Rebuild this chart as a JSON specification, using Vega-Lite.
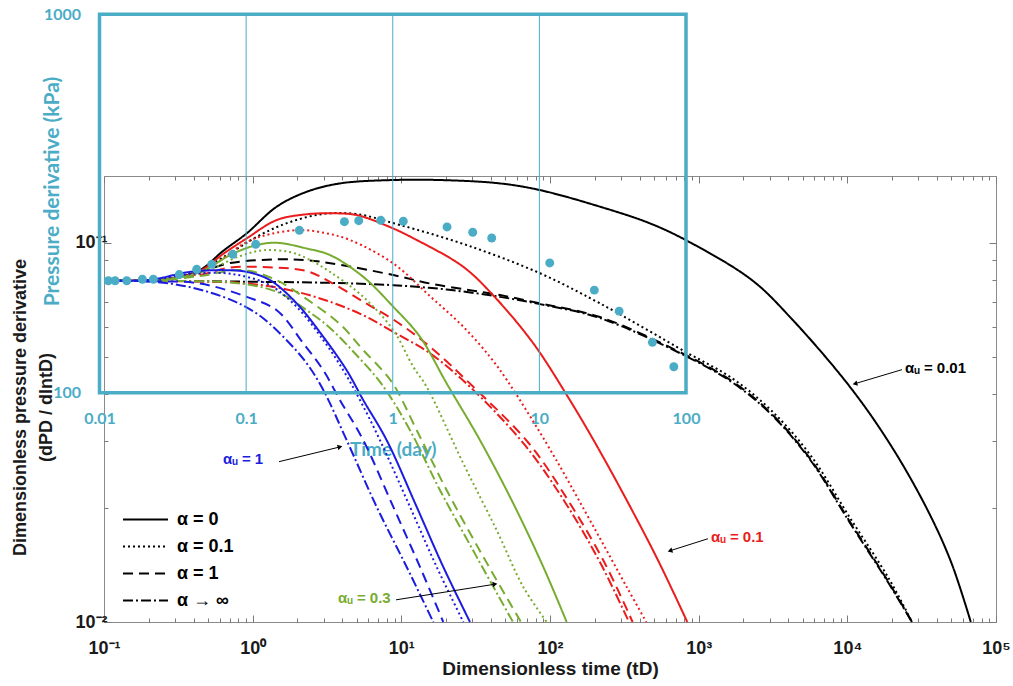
{
  "$schema": "https://vega.github.io/schema/vega-lite/v6.json",
  "width": 892,
  "height": 446,
  "autosize": {"type": "none"},
  "padding": {"left": 104, "top": 176, "right": 17, "bottom": 64},
  "background": "white",
  "config": {"view": {"stroke": "#8a8a8a", "strokeWidth": 1}, "font": "Liberation Sans"},
  "datasets": {
    "curves": [
      {"s":"0.01","d":"α = 0","t":0.1,"v":0.0795},{"s":"0.01","d":"α = 0","t":0.2039,"v":0.0796},{"s":"0.01","d":"α = 0","t":0.3003,"v":0.0809},{"s":"0.01","d":"α = 0","t":0.4421,"v":0.0847},{"s":"0.01","d":"α = 0","t":0.6316,"v":0.0951},{"s":"0.01","d":"α = 0","t":0.9116,"v":0.1059},{"s":"0.01","d":"α = 0","t":1.451,"v":0.1245},{"s":"0.01","d":"α = 0","t":2.309,"v":0.1363},{"s":"0.01","d":"α = 0","t":3.867,"v":0.1434},{"s":"0.01","d":"α = 0","t":8.388,"v":0.1463},{"s":"0.01","d":"α = 0","t":19.06,"v":0.1463},{"s":"0.01","d":"α = 0","t":46.09,"v":0.1434},{"s":"0.01","d":"α = 0","t":85.63,"v":0.1377},{"s":"0.01","d":"α = 0","t":216.9,"v":0.1245},{"s":"0.01","d":"α = 0","t":470.7,"v":0.1125},{"s":"0.01","d":"α = 0","t":860.7,"v":0.1006},{"s":"0.01","d":"α = 0","t":2284,"v":0.0797},{"s":"0.01","d":"α = 0","t":4178,"v":0.0633},{"s":"0.01","d":"α = 0","t":10580,"v":0.04136},{"s":"0.01","d":"α = 0","t":20160,"v":0.02873},{"s":"0.01","d":"α = 0","t":34720,"v":0.0197},{"s":"0.01","d":"α = 0","t":49950,"v":0.01437},{"s":"0.01","d":"α = 0","t":67680,"v":0.01},
      {"s":"0.01","d":"α = 0.1","t":0.1,"v":0.0795},{"s":"0.01","d":"α = 0.1","t":0.2039,"v":0.0796},{"s":"0.01","d":"α = 0.1","t":0.3003,"v":0.0809},{"s":"0.01","d":"α = 0.1","t":0.4421,"v":0.0847},{"s":"0.01","d":"α = 0.1","t":0.7039,"v":0.0939},{"s":"0.01","d":"α = 0.1","t":1.12,"v":0.1048},{"s":"0.01","d":"α = 0.1","t":1.783,"v":0.1134},{"s":"0.01","d":"α = 0.1","t":2.972,"v":0.1191},{"s":"0.01","d":"α = 0.1","t":4.955,"v":0.1191},{"s":"0.01","d":"α = 0.1","t":9.795,"v":0.1114},{"s":"0.01","d":"α = 0.1","t":27.52,"v":0.0986},{"s":"0.01","d":"α = 0.1","t":85.63,"v":0.0831},{"s":"0.01","d":"α = 0.1","t":216.9,"v":0.0692},{"s":"0.01","d":"α = 0.1","t":821.6,"v":0.05148},{"s":"0.01","d":"α = 0.1","t":1675,"v":0.04395},{"s":"0.01","d":"α = 0.1","t":3064,"v":0.03619},{"s":"0.01","d":"α = 0.1","t":5651,"v":0.02753},{"s":"0.01","d":"α = 0.1","t":10350,"v":0.0189},{"s":"0.01","d":"α = 0.1","t":18970,"v":0.01304},{"s":"0.01","d":"α = 0.1","t":27210,"v":0.01},
      {"s":"0.01","d":"α = 1","t":0.1,"v":0.0795},{"s":"0.01","d":"α = 1","t":0.2039,"v":0.0796},{"s":"0.01","d":"α = 1","t":0.3003,"v":0.0809},{"s":"0.01","d":"α = 1","t":0.4421,"v":0.0837},{"s":"0.01","d":"α = 1","t":0.7039,"v":0.0884},{"s":"0.01","d":"α = 1","t":1.451,"v":0.0904},{"s":"0.01","d":"α = 1","t":2.309,"v":0.09},{"s":"0.01","d":"α = 1","t":3.867,"v":0.0875},{"s":"0.01","d":"α = 1","t":8.83,"v":0.0822},{"s":"0.01","d":"α = 1","t":15.59,"v":0.0781},{"s":"0.01","d":"α = 1","t":28.96,"v":0.075},{"s":"0.01","d":"α = 1","t":46.09,"v":0.0728},{"s":"0.01","d":"α = 1","t":85.63,"v":0.0692},{"s":"0.01","d":"α = 1","t":216.9,"v":0.0637},{"s":"0.01","d":"α = 1","t":821.6,"v":0.05054},{"s":"0.01","d":"α = 1","t":1675,"v":0.04316},{"s":"0.01","d":"α = 1","t":3064,"v":0.03554},{"s":"0.01","d":"α = 1","t":5651,"v":0.02687},{"s":"0.01","d":"α = 1","t":10350,"v":0.01844},{"s":"0.01","d":"α = 1","t":18970,"v":0.01273},{"s":"0.01","d":"α = 1","t":27210,"v":0.01},
      {"s":"0.01","d":"α → ∞","t":0.1,"v":0.0795},{"s":"0.01","d":"α → ∞","t":0.4421,"v":0.0792},{"s":"0.01","d":"α → ∞","t":1.064,"v":0.0789},{"s":"0.01","d":"α → ∞","t":3.313,"v":0.0784},{"s":"0.01","d":"α → ∞","t":8.83,"v":0.0773},{"s":"0.01","d":"α → ∞","t":20.19,"v":0.0753},{"s":"0.01","d":"α → ∞","t":46.09,"v":0.072},{"s":"0.01","d":"α → ∞","t":85.63,"v":0.0689},{"s":"0.01","d":"α → ∞","t":216.9,"v":0.0633},{"s":"0.01","d":"α → ∞","t":821.6,"v":0.05024},{"s":"0.01","d":"α → ∞","t":1675,"v":0.0429},{"s":"0.01","d":"α → ∞","t":3064,"v":0.03532},{"s":"0.01","d":"α → ∞","t":5651,"v":0.0267},{"s":"0.01","d":"α → ∞","t":10350,"v":0.01833},{"s":"0.01","d":"α → ∞","t":18970,"v":0.01265},{"s":"0.01","d":"α → ∞","t":27210,"v":0.01},
      {"s":"0.1","d":"α = 0","t":0.1,"v":0.0795},{"s":"0.1","d":"α = 0","t":0.2039,"v":0.0796},{"s":"0.1","d":"α = 0","t":0.3003,"v":0.0809},{"s":"0.1","d":"α = 0","t":0.4421,"v":0.0842},{"s":"0.1","d":"α = 0","t":0.6316,"v":0.0934},{"s":"0.1","d":"α = 0","t":0.9116,"v":0.1027},{"s":"0.1","d":"α = 0","t":1.451,"v":0.1148},{"s":"0.1","d":"α = 0","t":2.309,"v":0.1189},{"s":"0.1","d":"α = 0","t":3.485,"v":0.1196},{"s":"0.1","d":"α = 0","t":5.009,"v":0.1183},{"s":"0.1","d":"α = 0","t":8.388,"v":0.11},{"s":"0.1","d":"α = 0","t":12.69,"v":0.1017},{"s":"0.1","d":"α = 0","t":26.12,"v":0.0864},{"s":"0.1","d":"α = 0","t":42.0,"v":0.0723},{"s":"0.1","d":"α = 0","t":77.2,"v":0.0543},{"s":"0.1","d":"α = 0","t":132.1,"v":0.0392},{"s":"0.1","d":"α = 0","t":202.3,"v":0.02956},{"s":"0.1","d":"α = 0","t":328.0,"v":0.02095},{"s":"0.1","d":"α = 0","t":532.6,"v":0.01455},{"s":"0.1","d":"α = 0","t":838.3,"v":0.01},
      {"s":"0.1","d":"α = 0.1","t":0.1,"v":0.0795},{"s":"0.1","d":"α = 0.1","t":0.2039,"v":0.0796},{"s":"0.1","d":"α = 0.1","t":0.3003,"v":0.0807},{"s":"0.1","d":"α = 0.1","t":0.4421,"v":0.0832},{"s":"0.1","d":"α = 0.1","t":0.9116,"v":0.1004},{"s":"0.1","d":"α = 0.1","t":1.308,"v":0.1054},{"s":"0.1","d":"α = 0.1","t":2.081,"v":0.108},{"s":"0.1","d":"α = 0.1","t":3.065,"v":0.1061},{"s":"0.1","d":"α = 0.1","t":4.515,"v":0.1017},{"s":"0.1","d":"α = 0.1","t":8.83,"v":0.0882},{"s":"0.1","d":"α = 0.1","t":15.59,"v":0.0723},{"s":"0.1","d":"α = 0.1","t":26.12,"v":0.06005},{"s":"0.1","d":"α = 0.1","t":39.48,"v":0.05003},{"s":"0.1","d":"α = 0.1","t":51.37,"v":0.04342},{"s":"0.1","d":"α = 0.1","t":73.35,"v":0.03489},{"s":"0.1","d":"α = 0.1","t":110.4,"v":0.0267},{"s":"0.1","d":"α = 0.1","t":202.3,"v":0.01746},{"s":"0.1","d":"α = 0.1","t":328.0,"v":0.01237},{"s":"0.1","d":"α = 0.1","t":444.3,"v":0.01},
      {"s":"0.1","d":"α = 1","t":0.1,"v":0.0795},{"s":"0.1","d":"α = 1","t":0.2039,"v":0.0796},{"s":"0.1","d":"α = 1","t":0.4421,"v":0.0822},{"s":"0.1","d":"α = 1","t":0.7039,"v":0.086},{"s":"0.1","d":"α = 1","t":1.377,"v":0.0861},{"s":"0.1","d":"α = 1","t":2.309,"v":0.0842},{"s":"0.1","d":"α = 1","t":3.313,"v":0.0789},{"s":"0.1","d":"α = 1","t":5.548,"v":0.0699},{"s":"0.1","d":"α = 1","t":9.307,"v":0.0619},{"s":"0.1","d":"α = 1","t":15.59,"v":0.0532},{"s":"0.1","d":"α = 1","t":30.49,"v":0.0417},{"s":"0.1","d":"α = 1","t":72.23,"v":0.02956},{"s":"0.1","d":"α = 1","t":132.1,"v":0.02095},{"s":"0.1","d":"α = 1","t":228.2,"v":0.01455},{"s":"0.1","d":"α = 1","t":359.4,"v":0.01},
      {"s":"0.1","d":"α → ∞","t":0.1,"v":0.0795},{"s":"0.1","d":"α → ∞","t":0.4421,"v":0.079},{"s":"0.1","d":"α → ∞","t":0.9116,"v":0.0781},{"s":"0.1","d":"α → ∞","t":1.783,"v":0.075},{"s":"0.1","d":"α → ∞","t":3.313,"v":0.0699},{"s":"0.1","d":"α → ∞","t":5.548,"v":0.0644},{"s":"0.1","d":"α → ∞","t":8.83,"v":0.0582},{"s":"0.1","d":"α → ∞","t":15.59,"v":0.0511},{"s":"0.1","d":"α → ∞","t":28.96,"v":0.0417},{"s":"0.1","d":"α → ∞","t":67.89,"v":0.02925},{"s":"0.1","d":"α → ∞","t":126.2,"v":0.0207},{"s":"0.1","d":"α → ∞","t":216.9,"v":0.01437},{"s":"0.1","d":"α → ∞","t":339.9,"v":0.01},
      {"s":"0.3","d":"α = 0","t":0.1,"v":0.0795},{"s":"0.3","d":"α = 0","t":0.2039,"v":0.0796},{"s":"0.3","d":"α = 0","t":0.3003,"v":0.0807},{"s":"0.3","d":"α = 0","t":0.4421,"v":0.0837},{"s":"0.3","d":"α = 0","t":0.7409,"v":0.0937},{"s":"0.3","d":"α = 0","t":1.064,"v":0.0986},{"s":"0.3","d":"α = 0","t":1.451,"v":0.1},{"s":"0.3","d":"α = 0","t":2.309,"v":0.0966},{"s":"0.3","d":"α = 0","t":3.313,"v":0.0928},{"s":"0.3","d":"α = 0","t":5.548,"v":0.0813},{"s":"0.3","d":"α = 0","t":8.83,"v":0.0678},{"s":"0.3","d":"α = 0","t":13.35,"v":0.0565},{"s":"0.3","d":"α = 0","t":20.19,"v":0.04256},{"s":"0.3","d":"α = 0","t":33.82,"v":0.03015},{"s":"0.3","d":"α = 0","t":56.64,"v":0.02053},{"s":"0.3","d":"α = 0","t":90.13,"v":0.01397},{"s":"0.3","d":"α = 0","t":129.5,"v":0.01},
      {"s":"0.3","d":"α = 0.1","t":0.1,"v":0.0795},{"s":"0.3","d":"α = 0.1","t":0.2039,"v":0.0796},{"s":"0.3","d":"α = 0.1","t":0.4421,"v":0.0832},{"s":"0.3","d":"α = 0.1","t":0.8217,"v":0.0922},{"s":"0.3","d":"α = 0.1","t":1.179,"v":0.0956},{"s":"0.3","d":"α = 0.1","t":1.783,"v":0.0945},{"s":"0.3","d":"α = 0.1","t":2.309,"v":0.091},{"s":"0.3","d":"α = 0.1","t":3.313,"v":0.0838},{"s":"0.3","d":"α = 0.1","t":5.548,"v":0.072},{"s":"0.3","d":"α = 0.1","t":8.83,"v":0.0588},{"s":"0.3","d":"α = 0.1","t":12.03,"v":0.0471},{"s":"0.3","d":"α = 0.1","t":14.81,"v":0.0417},{"s":"0.3","d":"α = 0.1","t":26.12,"v":0.02618},{"s":"0.3","d":"α = 0.1","t":43.79,"v":0.01746},{"s":"0.3","d":"α = 0.1","t":66.12,"v":0.01237},{"s":"0.3","d":"α = 0.1","t":94.99,"v":0.01},
      {"s":"0.3","d":"α = 1","t":0.1,"v":0.0795},{"s":"0.3","d":"α = 1","t":0.2379,"v":0.0797},{"s":"0.3","d":"α = 1","t":0.4421,"v":0.0817},{"s":"0.3","d":"α = 1","t":0.865,"v":0.0847},{"s":"0.3","d":"α = 1","t":1.451,"v":0.0797},{"s":"0.3","d":"α = 1","t":2.309,"v":0.071},{"s":"0.3","d":"α = 1","t":3.867,"v":0.061},{"s":"0.3","d":"α = 1","t":5.548,"v":0.0521},{"s":"0.3","d":"α = 1","t":8.614,"v":0.04297},{"s":"0.3","d":"α = 1","t":12.69,"v":0.03204},{"s":"0.3","d":"α = 1","t":20.19,"v":0.02226},{"s":"0.3","d":"α = 1","t":35.6,"v":0.01485},{"s":"0.3","d":"α = 1","t":63.8,"v":0.01},
      {"s":"0.3","d":"α → ∞","t":0.1,"v":0.0795},{"s":"0.3","d":"α → ∞","t":0.379,"v":0.0792},{"s":"0.3","d":"α → ∞","t":0.7409,"v":0.0785},{"s":"0.3","d":"α → ∞","t":1.451,"v":0.0743},{"s":"0.3","d":"α → ∞","t":2.309,"v":0.0664},{"s":"0.3","d":"α → ∞","t":3.313,"v":0.0596},{"s":"0.3","d":"α → ∞","t":5.009,"v":0.0505},{"s":"0.3","d":"α → ∞","t":7.377,"v":0.04238},{"s":"0.3","d":"α → ∞","t":11.44,"v":0.03204},{"s":"0.3","d":"α → ∞","t":18.2,"v":0.02226},{"s":"0.3","d":"α → ∞","t":32.13,"v":0.01485},{"s":"0.3","d":"α → ∞","t":56.38,"v":0.01},
      {"s":"1","d":"α = 0","t":0.1,"v":0.0795},{"s":"1","d":"α = 0","t":0.2039,"v":0.0799},{"s":"1","d":"α = 0","t":0.379,"v":0.0838},{"s":"1","d":"α = 0","t":0.6346,"v":0.0847},{"s":"1","d":"α = 0","t":0.9116,"v":0.0838},{"s":"1","d":"α = 0","t":1.308,"v":0.0797},{"s":"1","d":"α = 0","t":1.978,"v":0.0692},{"s":"1","d":"α = 0","t":2.986,"v":0.0565},{"s":"1","d":"α = 0","t":4.29,"v":0.0461},{"s":"1","d":"α = 0","t":5.548,"v":0.03846},{"s":"1","d":"α = 0","t":7.971,"v":0.03015},{"s":"1","d":"α = 0","t":12.69,"v":0.02011},{"s":"1","d":"α = 0","t":19.15,"v":0.01397},{"s":"1","d":"α = 0","t":28.96,"v":0.01},
      {"s":"1","d":"α = 0.1","t":0.1,"v":0.0795},{"s":"1","d":"α = 0.1","t":0.2039,"v":0.0797},{"s":"1","d":"α = 0.1","t":0.379,"v":0.0827},{"s":"1","d":"α = 0.1","t":0.6346,"v":0.0832},{"s":"1","d":"α = 0.1","t":0.9116,"v":0.0813},{"s":"1","d":"α = 0.1","t":1.308,"v":0.0773},{"s":"1","d":"α = 0.1","t":1.978,"v":0.0678},{"s":"1","d":"α = 0.1","t":2.986,"v":0.0554},{"s":"1","d":"α = 0.1","t":4.07,"v":0.0461},{"s":"1","d":"α = 0.1","t":5.272,"v":0.03846},{"s":"1","d":"α = 0.1","t":7.186,"v":0.03015},{"s":"1","d":"α = 0.1","t":11.44,"v":0.02011},{"s":"1","d":"α = 0.1","t":17.29,"v":0.01397},{"s":"1","d":"α = 0.1","t":26.12,"v":0.01},
      {"s":"1","d":"α = 1","t":0.1,"v":0.0795},{"s":"1","d":"α = 1","t":0.2039,"v":0.0792},{"s":"1","d":"α = 1","t":0.4421,"v":0.0781},{"s":"1","d":"α = 1","t":0.9116,"v":0.072},{"s":"1","d":"α = 1","t":1.451,"v":0.0664},{"s":"1","d":"α = 1","t":2.191,"v":0.0543},{"s":"1","d":"α = 1","t":2.986,"v":0.0461},{"s":"1","d":"α = 1","t":3.867,"v":0.03846},{"s":"1","d":"α = 1","t":5.548,"v":0.03015},{"s":"1","d":"α = 1","t":8.83,"v":0.02011},{"s":"1","d":"α = 1","t":13.35,"v":0.01397},{"s":"1","d":"α = 1","t":19.15,"v":0.01},
      {"s":"1","d":"α → ∞","t":0.1,"v":0.0795},{"s":"1","d":"α → ∞","t":0.278,"v":0.0781},{"s":"1","d":"α → ∞","t":0.6346,"v":0.072},{"s":"1","d":"α → ∞","t":1.064,"v":0.0651},{"s":"1","d":"α → ∞","t":1.607,"v":0.0565},{"s":"1","d":"α → ∞","t":2.309,"v":0.0481},{"s":"1","d":"α → ∞","t":2.986,"v":0.0409},{"s":"1","d":"α → ∞","t":4.29,"v":0.03015},{"s":"1","d":"α → ∞","t":6.828,"v":0.02011},{"s":"1","d":"α → ∞","t":10.86,"v":0.01397},{"s":"1","d":"α → ∞","t":16.41,"v":0.01}
    ],
    "notes": [
      {"s":"1","t":0.6316,"v":0.02687,"label":"αᵤ = 1"},
      {"s":"0.3","t":3.749,"v":0.01157,"label":"αᵤ = 0.3"},
      {"s":"0.1","t":1210,"v":0.01673,"label":"αᵤ = 0.1"},
      {"s":"0.01","t":24430,"v":0.04671,"label":"αᵤ = 0.01"}
    ],
    "arrows": [
      {"s":"1","t":1.503,"v":0.02647,"t2":3.867,"v2":0.02895},
      {"s":"0.3","t":9.21,"v":0.01144,"t2":42.66,"v2":0.01258},
      {"s":"0.1","t":1155,"v":0.01658,"t2":641.4,"v2":0.01541},
      {"s":"0.01","t":23310,"v":0.04628,"t2":11260,"v2":0.04251}
    ],
    "dots": [
      {"day":0.01148,"kpa":197.6},{"day":0.01277,"kpa":197.6},{"day":0.01534,"kpa":197.6},{"day":0.0196,"kpa":199.4},{"day":0.0233,"kpa":199.4},{"day":0.035,"kpa":205.2},{"day":0.046,"kpa":211.9},{"day":0.0583,"kpa":218.4},{"day":0.0811,"kpa":232.1},{"day":0.1163,"kpa":246.7},{"day":0.2307,"kpa":268.6},{"day":0.468,"kpa":283.1},{"day":0.586,"kpa":284.8},{"day":0.828,"kpa":285.5},{"day":1.18,"kpa":283.8},{"day":2.345,"kpa":274.2},{"day":3.51,"kpa":265.5},{"day":4.73,"kpa":256.4},{"day":11.77,"kpa":220.3},{"day":23.7,"kpa":186.7},{"day":35.0,"kpa":164.3},{"day":59.0,"kpa":135.9},{"day":82.6,"kpa":117.1}
    ]
  },
  "layer": [
    {
      "data": {"name": "curves"},
      "mark": {"type": "line", "strokeWidth": 2, "interpolate": "catmull-rom"},
      "encoding": {
        "x": {"field": "t", "type": "quantitative",
          "scale": {"type": "log", "domain": [0.1, 100000], "nice": false},
          "axis": {"orient": "bottom",
            "values": [0.1,0.2,0.3,0.4,0.5,0.6,0.7,0.8,0.9,1,2,3,4,5,6,7,8,9,10,20,30,40,50,60,70,80,90,100,200,300,400,500,600,700,800,900,1000,2000,3000,4000,5000,6000,7000,8000,9000,10000,20000,30000,40000,50000,60000,70000,80000,90000,100000],
            "labelExpr": "datum.value == 0.1 ? '10⁻¹' : datum.value == 1 ? '10⁰' : datum.value == 10 ? '10¹' : datum.value == 100 ? '10²' : datum.value == 1000 ? '10³' : datum.value == 10000 ? '10⁴' : datum.value == 100000 ? '10⁵' : ''",
            "tickSize": {"condition": {"test": "abs(log(datum.value)/LN10 - round(log(datum.value)/LN10)) < 0.001", "value": -7}, "value": -4},
            "tickColor": "#7a7a7a", "domain": false, "grid": false,
            "labelFont": "Liberation Sans", "labelFontSize": 18, "labelFontWeight": "bold", "labelColor": "#1a1a1a",
            "labelPadding": 24, "labelOverlap": false, "labelFlush": false, "labelBound": false,
            "title": "Dimensionless time (tD)", "titleFont": "Liberation Sans", "titleFontSize": 19, "titleFontWeight": "bold", "titleColor": "#1a1a1a",
            "titleY": 46, "titleBaseline": "middle"}},
        "y": {"field": "v", "type": "quantitative",
          "scale": {"type": "log", "domain": [0.01, 0.15], "nice": false},
          "axis": {"orient": "left",
            "values": [0.01,0.02,0.03,0.04,0.05,0.06,0.07,0.08,0.09,0.1],
            "labelExpr": "datum.value == 0.01 ? '10⁻²' : datum.value == 0.1 ? '10⁻¹' : ''",
            "tickSize": {"condition": {"test": "datum.value == 0.01 || datum.value == 0.1", "value": -7}, "value": -4},
            "tickColor": "#7a7a7a", "domain": false, "grid": false,
            "labelFont": "Liberation Sans", "labelFontSize": 18, "labelFontWeight": "bold", "labelColor": "#1a1a1a",
            "labelPadding": 4, "labelOverlap": false, "labelFlush": false, "labelBound": false,
            "title": ["Dimensionless pressure derivative", "(dPD / dlntD)"],
            "titleFont": "Liberation Sans", "titleFontSize": 18, "titleFontWeight": "bold", "titleColor": "#1a1a1a",
            "titleLineHeight": 26, "titleX": -84, "titleY": 231, "titleAngle": -90, "titleBaseline": "middle", "titleAlign": "center"}},
        "color": {"field": "s", "type": "nominal",
          "scale": {"domain": ["0.01", "0.1", "0.3", "1"], "range": ["#000000", "#ea1c1c", "#77ac30", "#1c1ce0"]},
          "legend": null},
        "strokeDash": {"field": "d", "type": "nominal",
          "scale": {"domain": ["α = 0", "α = 0.1", "α = 1", "α → ∞"], "range": [[1, 0], [2, 3], [10, 6], [10, 3, 2, 3]]},
          "legend": {"title": null, "orient": "none", "legendX": 18, "legendY": 330,
            "symbolType": "stroke", "symbolSize": 2025, "symbolStrokeWidth": 2, "symbolStrokeColor": "black",
            "labelFont": "Liberation Sans", "labelFontSize": 18, "labelFontWeight": "bold", "labelColor": "black",
            "labelOffset": 8, "rowPadding": 0, "clipHeight": 27, "padding": 0}}
      }
    },
    {
      "data": {"name": "arrows"},
      "mark": {"type": "rule", "color": "black", "strokeWidth": 1},
      "encoding": {
        "x": {"field": "t", "type": "quantitative", "scale": {"type": "log", "domain": [0.1, 100000], "nice": false}, "axis": null},
        "y": {"field": "v", "type": "quantitative", "scale": {"type": "log", "domain": [0.01, 0.15], "nice": false}, "axis": null},
        "x2": {"field": "t2"},
        "y2": {"field": "v2"}
      }
    },
    {
      "data": {"name": "arrows"},
      "transform": [{"filter": "datum.s == '1'"}],
      "mark": {"type": "point", "shape": "triangle-right", "filled": true, "color": "black", "size": 30, "angle": -14, "opacity": 1},
      "encoding": {
        "x": {"field": "t2", "type": "quantitative", "scale": {"type": "log", "domain": [0.1, 100000], "nice": false}, "axis": null},
        "y": {"field": "v2", "type": "quantitative", "scale": {"type": "log", "domain": [0.01, 0.15], "nice": false}, "axis": null}}
    },
    {
      "data": {"name": "arrows"},
      "transform": [{"filter": "datum.s == '0.3'"}],
      "mark": {"type": "point", "shape": "triangle-right", "filled": true, "color": "black", "size": 30, "angle": -9, "opacity": 1},
      "encoding": {
        "x": {"field": "t2", "type": "quantitative", "scale": {"type": "log", "domain": [0.1, 100000], "nice": false}, "axis": null},
        "y": {"field": "v2", "type": "quantitative", "scale": {"type": "log", "domain": [0.01, 0.15], "nice": false}, "axis": null}}
    },
    {
      "data": {"name": "arrows"},
      "transform": [{"filter": "datum.s == '0.1'"}],
      "mark": {"type": "point", "shape": "triangle-right", "filled": true, "color": "black", "size": 30, "angle": 163, "opacity": 1},
      "encoding": {
        "x": {"field": "t2", "type": "quantitative", "scale": {"type": "log", "domain": [0.1, 100000], "nice": false}, "axis": null},
        "y": {"field": "v2", "type": "quantitative", "scale": {"type": "log", "domain": [0.01, 0.15], "nice": false}, "axis": null}}
    },
    {
      "data": {"name": "arrows"},
      "transform": [{"filter": "datum.s == '0.01'"}],
      "mark": {"type": "point", "shape": "triangle-right", "filled": true, "color": "black", "size": 30, "angle": 165, "opacity": 1},
      "encoding": {
        "x": {"field": "t2", "type": "quantitative", "scale": {"type": "log", "domain": [0.1, 100000], "nice": false}, "axis": null},
        "y": {"field": "v2", "type": "quantitative", "scale": {"type": "log", "domain": [0.01, 0.15], "nice": false}, "axis": null}}
    },
    {
      "data": {"name": "notes"},
      "mark": {"type": "text", "align": "left", "baseline": "middle", "font": "Liberation Sans", "fontSize": 15, "fontWeight": "bold"},
      "encoding": {
        "x": {"field": "t", "type": "quantitative", "scale": {"type": "log", "domain": [0.1, 100000], "nice": false}, "axis": null},
        "y": {"field": "v", "type": "quantitative", "scale": {"type": "log", "domain": [0.01, 0.15], "nice": false}, "axis": null},
        "text": {"field": "label"},
        "color": {"field": "s", "type": "nominal", "legend": null}
      }
    },
    {
      "data": {"values": [{"t": 1, "v": 0.05}]},
      "mark": {"type": "point", "opacity": 0},
      "encoding": {
        "x": {"field": "t", "type": "quantitative",
          "scale": {"type": "log", "domain": [0.1, 100000], "nice": false},
          "axis": {"orient": "top", "labels": false, "domain": false, "grid": false, "title": null,
            "values": [0.1,0.2,0.3,0.4,0.5,0.6,0.7,0.8,0.9,1,2,3,4,5,6,7,8,9,10,20,30,40,50,60,70,80,90,100,200,300,400,500,600,700,800,900,1000,2000,3000,4000,5000,6000,7000,8000,9000,10000,20000,30000,40000,50000,60000,70000,80000,90000,100000],
            "tickSize": {"condition": {"test": "abs(log(datum.value)/LN10 - round(log(datum.value)/LN10)) < 0.001", "value": -7}, "value": -4},
            "tickColor": "#7a7a7a"}},
        "y": {"field": "v", "type": "quantitative",
          "scale": {"type": "log", "domain": [0.01, 0.15], "nice": false},
          "axis": {"orient": "right", "labels": false, "domain": false, "grid": false, "title": null,
            "values": [0.01,0.02,0.03,0.04,0.05,0.06,0.07,0.08,0.09,0.1],
            "tickSize": {"condition": {"test": "datum.value == 0.01 || datum.value == 0.1", "value": -7}, "value": -4},
            "tickColor": "#7a7a7a"}}
      }
    },
    {
      "data": {"values": [{"day": 0.01, "day2": 100, "kpa": 100, "kpa2": 1000}]},
      "mark": {"type": "rect", "filled": false, "stroke": "#4bacc6", "strokeWidth": 3.5},
      "encoding": {
        "x": {"field": "day", "type": "quantitative",
          "scale": {"type": "log", "domain": [0.01, 100], "range": [-4.5, 582], "nice": false},
          "axis": {"orient": "bottom", "offset": -229.3, "values": [0.01, 0.1, 1, 10, 100], "format": "~g",
            "ticks": false, "domain": false, "grid": false,
            "labelFont": "Lato", "labelFontSize": 16, "labelFontWeight": "bold", "labelColor": "#4bacc6",
            "labelPadding": 18, "labelOverlap": false, "labelFlush": false, "labelBound": false,
            "title": "Time (day)", "titleFont": "Lato", "titleFontSize": 19, "titleFontWeight": "bold", "titleColor": "#4bacc6",
            "titleY": 57, "titleBaseline": "middle"}},
        "x2": {"field": "day2"},
        "y": {"field": "kpa", "type": "quantitative",
          "scale": {"type": "log", "domain": [100, 1000], "range": [216.7, -161.7], "nice": false},
          "axis": {"orient": "left", "offset": 4.5, "values": [100, 1000], "format": "d",
            "ticks": false, "domain": false, "grid": false,
            "labelFont": "Lato", "labelFontSize": 16, "labelFontWeight": "bold", "labelColor": "#4bacc6",
            "labelPadding": 19, "labelOverlap": false, "labelFlush": false, "labelBound": false,
            "title": "Pressure derivative (kPa)", "titleFont": "Lato", "titleFontSize": 21, "titleFontWeight": "bold", "titleColor": "#4bacc6",
            "titleX": -47, "titleY": 15, "titleAngle": -90, "titleBaseline": "middle", "titleAlign": "center"}},
        "y2": {"field": "kpa2"}
      }
    },
    {
      "data": {"values": [{"day": 0.1, "kpa": 100, "kpa2": 1000}, {"day": 1, "kpa": 100, "kpa2": 1000}, {"day": 10, "kpa": 100, "kpa2": 1000}]},
      "mark": {"type": "rule", "color": "#4bacc6", "strokeWidth": 1},
      "encoding": {
        "x": {"field": "day", "type": "quantitative", "scale": {"type": "log", "domain": [0.01, 100], "range": [-4.5, 582], "nice": false}, "axis": null},
        "y": {"field": "kpa", "type": "quantitative", "scale": {"type": "log", "domain": [100, 1000], "range": [216.7, -161.7], "nice": false}, "axis": null},
        "y2": {"field": "kpa2"}
      }
    },
    {
      "data": {"name": "dots"},
      "mark": {"type": "circle", "size": 80, "color": "#4bacc6", "opacity": 1},
      "encoding": {
        "x": {"field": "day", "type": "quantitative", "scale": {"type": "log", "domain": [0.01, 100], "range": [-4.5, 582], "nice": false}, "axis": null},
        "y": {"field": "kpa", "type": "quantitative", "scale": {"type": "log", "domain": [100, 1000], "range": [216.7, -161.7], "nice": false}, "axis": null}
      }
    }
  ],
  "resolve": {"scale": {"x": "independent", "y": "independent"}}
}
